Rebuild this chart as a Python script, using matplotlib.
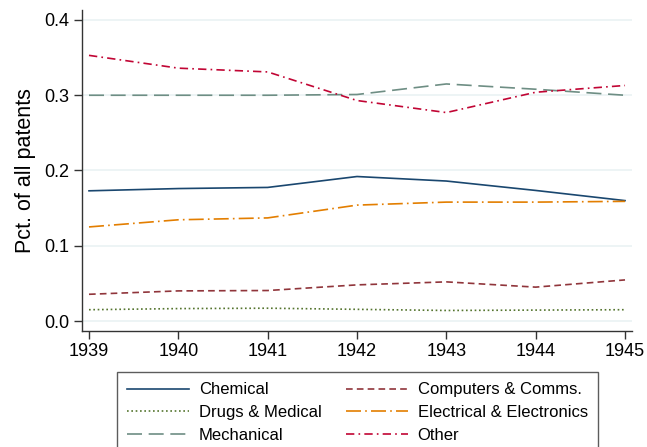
import matplotlib
matplotlib.use("Agg")
import matplotlib.pyplot as plt

plt.rcParams['font.family'] = ['Liberation Sans', 'DejaVu Sans']

years = [1939, 1940, 1941, 1942, 1943, 1944, 1945]
chemical = [0.173, 0.176, 0.1775, 0.192, 0.186, 0.1735, 0.160]
computers = [0.0355, 0.040, 0.0405, 0.048, 0.052, 0.045, 0.0546]
drugs = [0.015, 0.0165, 0.017, 0.0155, 0.014, 0.0145, 0.015]
electrical = [0.125, 0.1345, 0.137, 0.154, 0.158, 0.158, 0.159]
mechanical = [0.300, 0.300, 0.300, 0.301, 0.315, 0.308, 0.300]
other = [0.353, 0.336, 0.331, 0.293, 0.277, 0.304, 0.313]
yticks = [0.0, 0.1, 0.2, 0.3, 0.4]
ytick_labels = ["0.0", "0.1", "0.2", "0.3", "0.4"]

W, H = 647, 447
fig = plt.figure(figsize=(W / 100, H / 100), dpi=100)
ax = fig.add_axes([82 / W, 1 - 331 / H, 550 / W, 321 / H])

series = [
    ("Chemical", chemical, "#1a476f", "-"),
    ("Computers & Comms.", computers, "#90353b", (0, (4, 2.5))),
    ("Drugs & Medical", drugs, "#55752f", (0, (1, 1.6))),
    ("Electrical & Electronics", electrical, "#e37e00", (0, (9, 2.5, 1, 2.5))),
    ("Mechanical", mechanical, "#6e8e84", (0, (9, 4))),
    ("Other", other, "#c10534", (0, (5, 2.5, 1, 2.5))),
]
handles = {}
for name, vals, col, ls in series:
    (ln,) = ax.plot(years, vals, color=col, linestyle=ls, linewidth=1.2)
    handles[name] = ln

ax.set_xlim(1939 - 7 / 89.3, 1945 + 7 / 89.3)
ax.set_ylim(-10 / 752.5, 0.4 + 10 / 752.5)
ax.set_yticks(yticks)
ax.set_yticklabels(ytick_labels)
ax.set_xticks(years)
ax.set_xticklabels([str(y) for y in years])
ax.grid(axis='y', color='#eaf2f3', linewidth=1.2)
ax.set_axisbelow(True)
for s in ['top', 'right']:
    ax.spines[s].set_visible(False)
for s in ['left', 'bottom']:
    ax.spines[s].set_color('#333333')
    ax.spines[s].set_linewidth(1.0)
ax.tick_params(axis='both', labelsize=13, length=6, width=1, color='#333333', pad=3)
ax.set_ylabel("Pct. of all patents", fontsize=15.5, labelpad=6)

order = ["Chemical", "Drugs & Medical", "Mechanical",
         "Computers & Comms.", "Electrical & Electronics", "Other"]
leg = fig.legend([handles[n] for n in order], order, ncol=2,
                 loc='upper left', bbox_to_anchor=(117 / W, 1 - 372 / H),
                 fontsize=12, frameon=True, fancybox=False,
                 edgecolor='#333333', handlelength=3.7, handletextpad=0.6,
                 columnspacing=1.45, labelspacing=0.47, borderpad=0.62,
                 borderaxespad=0)
leg.get_frame().set_linewidth(1.0)

fig.savefig("out.png", dpi=100)
